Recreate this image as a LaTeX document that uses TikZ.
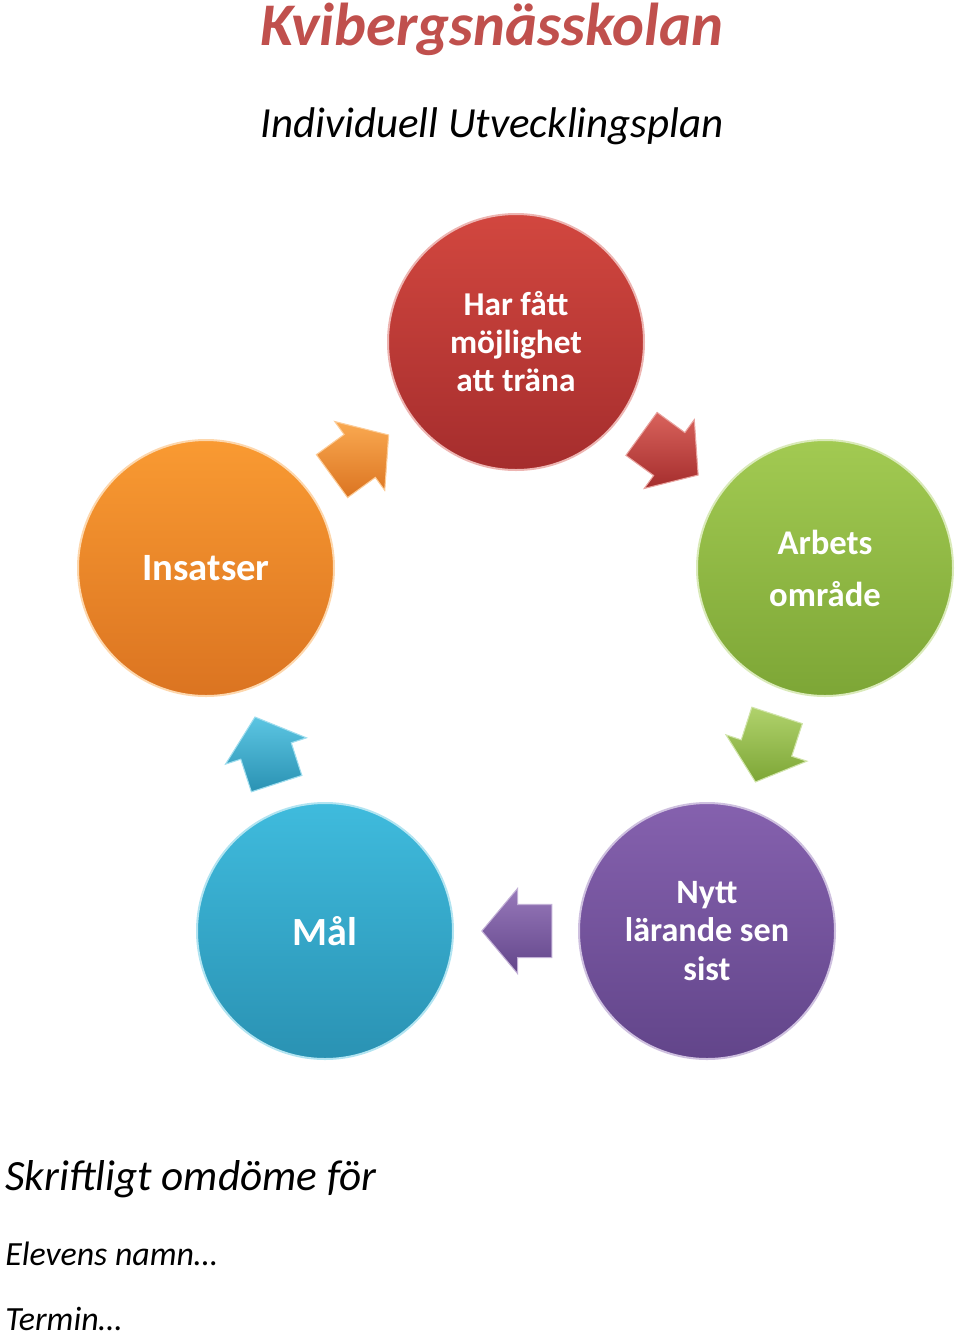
\documentclass[tikz,border=0pt]{standalone}
\usepackage{fontspec}
\setmainfont{Carlito}
\usepackage{tikz}
\usetikzlibrary{shapes.arrows}
\usetikzlibrary{calc}

\definecolor{skolrod}{HTML}{C0504D}
\definecolor{rodA}{HTML}{D2473F}\definecolor{rodB}{HTML}{A52D2D}
\definecolor{gronA}{HTML}{A2CA52}\definecolor{gronB}{HTML}{7DA636}
\definecolor{orangeA}{HTML}{F99A32}\definecolor{orangeB}{HTML}{DB7421}
\definecolor{blaA}{HTML}{3FBBDD}\definecolor{blaB}{HTML}{2A92B3}
\definecolor{lilaA}{HTML}{8561AE}\definecolor{lilaB}{HTML}{62458A}

\tikzset{
  disc/.style={circle, minimum size=192pt, inner sep=0pt, text=white, align=center,
    font=\bfseries\fontsize{25}{28.5}\selectfont,
    top color=#1A, bottom color=#1B, draw=#1A!40!white, line width=1.5pt},
  pil/.style={single arrow, minimum height=52.5pt, inner xsep=0pt, inner ysep=19.5pt,
    single arrow head extend=12pt, single arrow tip angle=100,
    top color=#1A!85!white, bottom color=#1B, draw=#1A!50!white, line width=0.8pt},
  rubrik/.style={anchor=base, font=\itshape\fontsize{32.2}{38}\selectfont},
  rad/.style={anchor=base west, inner xsep=0pt, font=\itshape\fontsize{25.4}{30}\selectfont}
}

\begin{document}
\begin{tikzpicture}[x=0.75pt,y=-0.75pt]
\useasboundingbox (0,0) rectangle (960,1336);
% titel
\node at (492,45)[anchor=base,text=skolrod,font=\bfseries\itshape\fontsize{45.4}{50}\selectfont] (titel) {Kvibergsnässkolan};
\node at (492,137)[rubrik] (undertitel) {Individuell Utvecklingsplan};
% cirklar
\node at (516,342)[disc=rod] (trana) {Har fått\\möjlighet\\att träna};
\node at (825,568)[disc=gron,font=\bfseries\fontsize{26}{39}\selectfont] (arbets) {Arbets\\område};
\node at (707,931)[disc=lila,font=\bfseries\fontsize{25.6}{29}\selectfont] (nytt) {Nytt\\lärande sen\\sist};
\node at (325,931)[disc=bla,font=\bfseries\fontsize{30}{34}\selectfont] (mal) {Mål};
\node at (206,568)[disc=orange,font=\bfseries\fontsize{29}{34}\selectfont] (insatser) {Insatser};
% pilar
\node at ($(trana)!0.5!(insatser)!9pt!(insatser)$)[pil=orange,rotate=36] (p1) {};
\node at ($(arbets)!0.5!(trana)!9pt!(trana)$)[pil=rod,rotate=-36] (p2) {};
\node at ($(nytt)!0.5!(arbets)!9pt!(arbets)$)[pil=gron,rotate=-108] (p3) {};
\node at ($(mal)!0.5!(nytt)!9pt!(nytt)$)[pil=lila,rotate=180] (p4) {};
\node at ($(insatser)!0.5!(mal)!9pt!(mal)$)[pil=bla,rotate=108] (p5) {};
% nederst
\node at (5,1190)[rad,font=\itshape\fontsize{32.4}{38}\selectfont] (omdome) {Skriftligt omdöme för};
\node at (5,1265)[rad] (namn) {Elevens namn…};
\node at (5,1330)[rad] (termin) {Termin…};
\end{tikzpicture}
\end{document}
